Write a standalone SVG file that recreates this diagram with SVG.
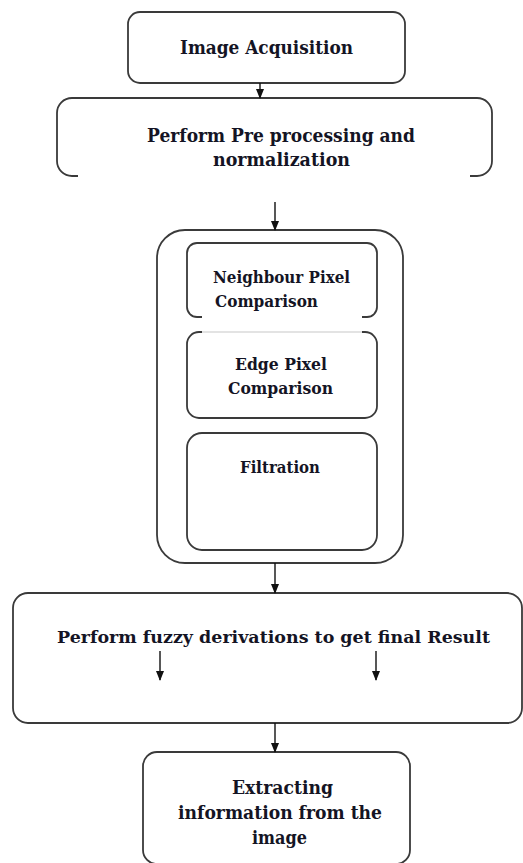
<svg xmlns="http://www.w3.org/2000/svg" width="523" height="863" viewBox="0 0 523 863">
<defs>
<marker id="ah" markerUnits="userSpaceOnUse" markerWidth="10" markerHeight="10" viewBox="0 0 10 10" refX="9" refY="5" orient="auto">
<path d="M0,1 L10,5 L0,9 Z" fill="#111"/>
</marker>
<style>
.box{fill:none;stroke:#3a3a3a;stroke-width:1.8}
.faint{fill:none;stroke:#c8c8c8;stroke-width:1.2}
text{font-family:'DejaVu Serif','Liberation Serif',serif;font-weight:bold;fill:#141424;text-anchor:middle}
.big{font-size:19px}
.mid{font-size:17px}
.sm{font-size:17.5px}
.l{text-anchor:start}
.con{stroke:#111;stroke-width:1.4;fill:none;marker-end:url(#ah)}
</style>
</defs>
<rect width="523" height="863" fill="#fff"/>

<g id="n-acq">
<rect class="box" x="128" y="12" width="277" height="71" rx="12"/>
<text class="big" x="266.5" y="54" textLength="173" lengthAdjust="spacingAndGlyphs">Image Acquisition</text>
</g>

<g id="n-pre">
<path class="box" d="M78,176 L72,176 A15,15 0 0 1 57,161 L57,113 A15,15 0 0 1 72,98 L477,98 A15,15 0 0 1 492,113 L492,161 A15,15 0 0 1 477,176 L470,176"/>
<text class="big" x="281" y="142" textLength="268" lengthAdjust="spacingAndGlyphs">Perform Pre processing and</text>
<text class="big" x="281.5" y="166" textLength="137" lengthAdjust="spacingAndGlyphs">normalization</text>
</g>

<g id="n-container">
<rect class="box" x="157" y="230" width="246" height="333" rx="28"/>
</g>

<g id="n-neigh">
<path class="box" d="M202,317 L197,317 A10,10 0 0 1 187,307 L187,253 A10,10 0 0 1 197,243 L367,243 A10,10 0 0 1 377,253 L377,307 A10,10 0 0 1 367,317 L362,317"/>
<text class="sm l" x="213" y="283" textLength="137" lengthAdjust="spacingAndGlyphs">Neighbour Pixel</text>
<text class="sm l" x="215" y="307" textLength="103" lengthAdjust="spacingAndGlyphs">Comparison</text>
</g>

<g id="n-edge">
<path class="faint" d="M202,332 L362,332"/>
<path class="box" d="M202,332 L199,332 A12,12 0 0 0 187,344 L187,406 A12,12 0 0 0 199,418 L365,418 A12,12 0 0 0 377,406 L377,344 A12,12 0 0 0 365,332 L362,332"/>
<text class="sm" x="281" y="370" textLength="92" lengthAdjust="spacingAndGlyphs">Edge Pixel</text>
<text class="sm" x="280.5" y="394" textLength="105" lengthAdjust="spacingAndGlyphs">Comparison</text>
</g>

<g id="n-filt">
<rect class="box" x="187" y="433" width="190" height="117" rx="15"/>
<text class="sm" x="280" y="473" textLength="80" lengthAdjust="spacingAndGlyphs">Filtration</text>
</g>

<g id="n-fuzzy">
<rect class="box" x="13" y="593" width="509" height="130" rx="15"/>
<text class="mid" x="273.5" y="643" textLength="433" lengthAdjust="spacingAndGlyphs">Perform fuzzy derivations to get final Result</text>
</g>

<g id="n-extract">
<rect class="box" x="143" y="752" width="267" height="112" rx="14"/>
<text class="big" x="282.5" y="794" textLength="101" lengthAdjust="spacingAndGlyphs">Extracting</text>
<text class="big" x="280" y="819" textLength="204" lengthAdjust="spacingAndGlyphs">information from the</text>
<text class="big" x="279.5" y="844" textLength="55" lengthAdjust="spacingAndGlyphs">image</text>
</g>

<g id="connectors">
<line class="con" x1="260" y1="83" x2="260" y2="98"/>
<line class="con" x1="275" y1="202" x2="275" y2="230"/>
<line class="con" x1="275" y1="563" x2="275" y2="593"/>
<line class="con" x1="160" y1="651" x2="160" y2="680"/>
<line class="con" x1="376" y1="651" x2="376" y2="680"/>
<line class="con" x1="275" y1="723" x2="275" y2="752"/>
</g>
</svg>
